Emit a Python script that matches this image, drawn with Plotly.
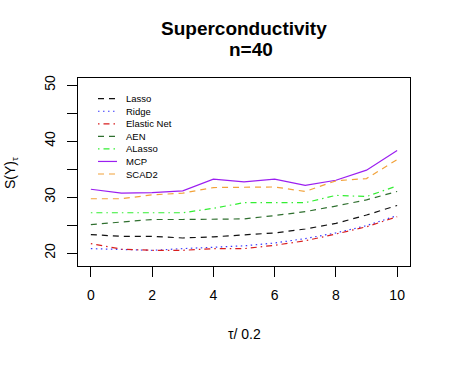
import plotly.graph_objects as go

# DATA
tau = [0, 1, 2, 3, 4, 5, 6, 7, 8, 9, 10]

lasso = [23.3, 23.0, 23.0, 22.7, 22.9, 23.2, 23.6, 24.3, 25.3, 26.8, 28.5]
ridge = [20.8, 20.7, 20.5, 20.8, 21.1, 21.3, 21.8, 22.6, 23.6, 24.9, 26.7]
elastic_net = [21.7, 20.7, 20.5, 20.5, 20.8, 20.8, 21.4, 22.2, 23.4, 24.7, 26.5]
aen = [25.1, 25.5, 26.0, 26.0, 26.0, 26.1, 26.7, 27.4, 28.4, 29.5, 31.0]
alasso = [27.2, 27.2, 27.3, 27.2, 28.0, 29.0, 29.0, 29.0, 30.3, 30.1, 32.0]
mcp = [31.4, 30.7, 30.8, 31.1, 33.2, 32.7, 33.2, 32.1, 33.0, 34.8, 38.3]
scad2 = [29.7, 29.7, 30.4, 30.7, 31.7, 31.7, 31.8, 31.0, 32.9, 33.3, 36.7]

x_ticks = [0, 2, 4, 6, 8, 10]
y_ticks = [20, 25, 30, 35, 40, 45, 50]
y_labels = ["20", "", "30", "", "40", "", "50"]

FONT = "Liberation Sans, Arial, sans-serif"

series = [
    ("Lasso", lasso, "#111111", "6px,5px"),
    ("Ridge", ridge, "#3a3aff", "1.5px,3.5px"),
    ("Elastic Net", elastic_net, "#d81e1e", "1.5px,4px,6px,4px"),
    ("AEN", aen, "#2f6f2f", "6px,5px"),
    ("ALasso", alasso, "#33ee33", "1.5px,4px,6px,4px"),
    ("MCP", mcp, "#9b1ff0", "solid"),
    ("SCAD2", scad2, "#f2a23a", "6px,5px"),
]

# plot area in pixels
L, R, T, B = 78, 410, 78, 266
W, H = 450, 365


def px(xp):
    return (xp - L) / (R - L)


def py(yp):
    return (B - yp) / (B - T)


fig = go.Figure()
for name, vals, color, dash in series:
    fig.add_trace(go.Scatter(
        x=tau, y=vals, mode="lines", name=name, showlegend=False,
        line=dict(color=color, dash=dash, width=1.2),
    ))

# R-style legend (compact rows)
shapes = []
annotations = []
for i, (name, vals, color, dash) in enumerate(series):
    yc = 98.7 + i * 12.55
    shapes.append(dict(
        type="line", xref="paper", yref="paper",
        x0=px(98), x1=px(117), y0=py(yc), y1=py(yc),
        line=dict(color=color, dash=dash, width=1.2),
    ))
    annotations.append(dict(
        text=name, xref="paper", yref="paper", x=px(124), y=py(yc),
        xanchor="left", yanchor="middle", showarrow=False,
        font=dict(size=9.5),
    ))

# titles
annotations += [
    dict(text="<b>Superconductivity</b>", xref="paper", yref="paper",
         x=px(244), y=py(29), xanchor="center", yanchor="middle",
         showarrow=False, font=dict(size=19)),
    dict(text="<b>n=40</b>", xref="paper", yref="paper",
         x=px(251.5), y=py(50), xanchor="center", yanchor="middle",
         showarrow=False, font=dict(size=19)),
    dict(text="τ/ 0.2", xref="paper", yref="paper",
         x=px(244), y=py(334), xanchor="center", yanchor="middle",
         showarrow=False, font=dict(size=14)),
    dict(text="S(Y)<sub>τ</sub>", xref="paper", yref="paper",
         x=px(11), y=py(173), xanchor="center", yanchor="middle",
         textangle=-90, showarrow=False, font=dict(size=14)),
]

fig.update_layout(
    width=W, height=H,
    margin=dict(l=L, r=W - R, t=T, b=H - B, autoexpand=False),
    paper_bgcolor="white", plot_bgcolor="white",
    font=dict(family=FONT, color="black", size=14),
    showlegend=False,
    shapes=shapes,
    annotations=annotations,
    xaxis=dict(
        range=[-0.42, 10.42], tickvals=x_ticks,
        showline=True, linecolor="black", linewidth=1, mirror=True,
        ticks="outside", ticklen=10, tickcolor="black",
        ticklabelstandoff=6, showgrid=False, zeroline=False,
        tickfont=dict(size=14),
    ),
    yaxis=dict(
        range=[17.7, 51.25], tickvals=y_ticks, ticktext=y_labels,
        tickangle=-90,
        showline=True, linecolor="black", linewidth=1, mirror=True,
        ticks="outside", ticklen=10, tickcolor="black",
        ticklabelstandoff=6, showgrid=False, zeroline=False,
        tickfont=dict(size=14),
    ),
)

# drop the page's default body margin so the figure sits at the window corner
fig.write_html(
    "out.html",
    config={"displayModeBar": False},
    post_script="document.body.style.margin = '0';",
)
